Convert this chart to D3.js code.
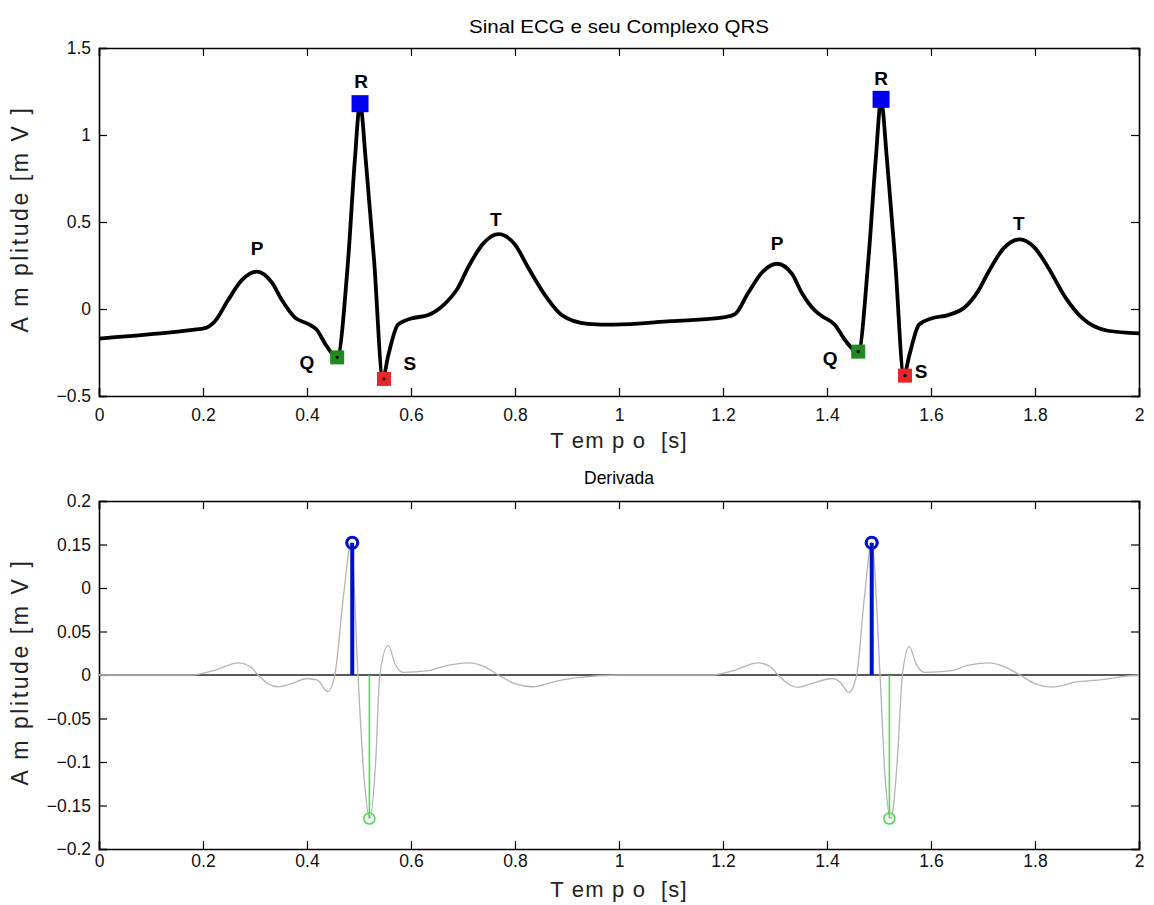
<!DOCTYPE html>
<html>
<head>
<meta charset="utf-8">
<script src="https://cdn.jsdelivr.net/npm/d3@7"></script>
<style>
    body { margin: 0; background: #fff; }
    text { font-family: "Liberation Sans", Arial, sans-serif; }
</style>
</head>
<body>
<svg id="chart" width="1154" height="905"></svg>
<script>
var ecgT = [0, 0.10, 0.18, 0.204, 0.223, 0.248, 0.275, 0.304, 0.333, 0.352, 0.377, 0.402, 0.419, 0.435, 0.458,
    0.479, 0.492, 0.502, 0.513, 0.529, 0.546, 0.556, 0.575, 0.60, 0.633, 0.665, 0.69, 0.71, 0.74, 0.768, 0.80,
    0.825, 0.86, 0.89, 0.94, 0.99, 1.10, 1.204, 1.223, 1.248, 1.275, 1.304, 1.333, 1.352, 1.377, 1.39, 1.415,
    1.435, 1.46, 1.48, 1.494, 1.504, 1.515, 1.531, 1.548, 1.558, 1.577, 1.60, 1.633, 1.665, 1.69, 1.71, 1.74,
    1.77, 1.80, 1.825, 1.86, 1.89, 1.94, 2.0];
var ecgV = [-0.17, -0.145, -0.12, -0.11, -0.07, 0.05, 0.167, 0.215, 0.15, 0.05, -0.05, -0.086, -0.12, -0.2, -0.276,
    0.28, 0.856, 1.18, 0.856, 0.28, -0.40, -0.27, -0.09, -0.055, -0.035, 0.03, 0.12, 0.24, 0.38, 0.43, 0.37,
    0.24, 0.07, -0.035, -0.085, -0.09, -0.07, -0.047, -0.03, 0.09, 0.21, 0.26, 0.20, 0.09, -0.01, -0.04, -0.09,
    -0.18, -0.247, 0.30, 0.87, 1.20, 0.87, 0.28, -0.385, -0.27, -0.09, -0.055, -0.035, 0.01, 0.10, 0.21, 0.35,
    0.40, 0.35, 0.24, 0.06, -0.05, -0.125, -0.14];

// picos detectados
var rT = [0.502, 1.504], rV = [1.18, 1.205];
var qT = [0.458, 1.460], qV = [-0.278, -0.245];
var sT = [0.548, 1.550], sV = [-0.402, -0.383];

var ondaNomes = ["P", "Q", "R", "S", "T", "P", "Q", "R", "S", "T"];
var ondaT = [0.304, 0.400, 0.504, 0.598, 0.763, 1.304, 1.406, 1.504, 1.581, 1.769];
var ondaV = [0.345, -0.31, 1.31, -0.316, 0.517, 0.379, -0.287, 1.322, -0.362, 0.494];

// derivada
var derT = [0, 0.18, 0.22, 0.268, 0.29, 0.306, 0.325, 0.343, 0.37, 0.40, 0.42, 0.44, 0.454, 0.47, 0.485, 0.498,
    0.51, 0.521, 0.532, 0.54, 0.556, 0.57, 0.585, 0.633, 0.67, 0.71, 0.74, 0.768, 0.80, 0.833, 0.88, 0.92, 1.0,
    1.18, 1.22, 1.267, 1.29, 1.306, 1.325, 1.344, 1.37, 1.41, 1.425, 1.442, 1.457, 1.472, 1.486, 1.502, 1.512,
    1.523, 1.535, 1.545, 1.558, 1.572, 1.588, 1.64, 1.67, 1.71, 1.74, 1.771, 1.80, 1.833, 1.88, 1.92, 1.98, 2.0];
var derV = [0, 0, 0.005, 0.014, 0.01, 0, -0.01, -0.0135, -0.01, -0.004, -0.006, -0.019, 0.002, 0.09, 0.152, 0,
    -0.12, -0.165, -0.1, 0, 0.034, 0.012, 0.003, 0.005, 0.011, 0.014, 0.01, 0, -0.01, -0.0135, -0.007, -0.003, 0,
    0, 0.005, 0.014, 0.01, 0, -0.01, -0.014, -0.01, -0.004, -0.008, -0.02, 0, 0.09, 0.152, 0, -0.12,
    -0.165, -0.1, 0, 0.033, 0.012, 0.003, 0.005, 0.011, 0.014, 0.01, 0, -0.01, -0.014, -0.008, -0.006, -0.001, 0];

var maxT = [0.487, 1.486], maxV = [0.152, 0.152];
var minT = [0.520, 1.520], minV = [-0.165, -0.165];

var xTicks = [0, 0.2, 0.4, 0.6, 0.8, 1, 1.2, 1.4, 1.6, 1.8, 2];
var yTicksTop = [-0.5, 0, 0.5, 1, 1.5];
var yTickLabelsTop = ["\u22120.5", "0", "0.5", "1", "1.5"];
var yTicksBot = [-0.2, -0.15, -0.1, -0.05, 0, 0.05, 0.1, 0.15, 0.2];
var yTickLabelsBot = ["\u22120.2", "\u22120.15", "\u22120.1", "\u22120.05", "0", "0.05", "0", "0.15", "0.2"];

var svg = d3.select("#chart");
svg.append("rect").attr("width", 1154).attr("height", 905).attr("fill", "#fff");

var left = 99, right = 1139;

function desenhaEixos(top, bottom, yDomain, yTicks, yLabels, titulo, tituloY, tituloLarg, xPad, xLabelY) {
    var x = d3.scaleLinear().domain([0, 2]).range([left, right]);
    var y = d3.scaleLinear().domain(yDomain).range([bottom, top]);
    var g = svg.append("g");

    var fmtX = function (d) { return d3.format("")(+d.toFixed(1)); };

    g.append("g").attr("transform", "translate(0," + bottom + ")")
        .call(d3.axisBottom(x).tickValues(xTicks).tickSize(-8).tickPadding(xPad).tickFormat(fmtX));
    g.append("g").attr("transform", "translate(0," + top + ")")
        .call(d3.axisTop(x).tickValues(xTicks).tickSize(-8).tickFormat(""));
    g.append("g").attr("transform", "translate(" + left + ",0)")
        .call(d3.axisLeft(y).tickValues(yTicks).tickSize(-8).tickPadding(8)
            .tickFormat(function (d, i) { return yLabels[i]; }));
    g.append("g").attr("transform", "translate(" + right + ",0)")
        .call(d3.axisRight(y).tickValues(yTicks).tickSize(-8).tickFormat(""));

    g.selectAll(".domain").attr("stroke", "#000").attr("stroke-width", 1.6);
    g.selectAll(".tick line").attr("stroke", "#000").attr("stroke-width", 1.2);
    g.selectAll(".tick text").attr("font-size", 17.5).attr("fill", "#111")
        .attr("font-family", "Liberation Sans, Arial, sans-serif");

    svg.append("text").attr("x", (left + right) / 2).attr("y", tituloY)
        .attr("text-anchor", "middle").attr("font-size", 19)
        .attr("textLength", tituloLarg).attr("lengthAdjust", "spacingAndGlyphs")
        .text(titulo);

    svg.append("text").attr("x", (left + right) / 2).attr("y", xLabelY)
        .attr("text-anchor", "middle").attr("font-size", 22).attr("fill", "#222")
        .attr("letter-spacing", 1.2)
        .style("white-space", "pre").attr("xml:space", "preserve")
        .text("T em p o  [s]");

    var cy = (top + bottom) / 2 - 3;
    svg.append("text").attr("transform", "translate(28," + cy + ") rotate(-90)")
        .attr("text-anchor", "middle").attr("font-size", 23).attr("fill", "#222")
        .attr("letter-spacing", 2.6)
        .style("white-space", "pre").attr("xml:space", "preserve")
        .text("A m plitude [m V ]");

    return {x: x, y: y};
}

// ---- sinal ECG ----
var s1 = desenhaEixos(48, 396, [-0.5, 1.5], yTicksTop, yTickLabelsTop, "Sinal ECG e seu Complexo QRS", 33, 300, 13, 448);

var ecg = ecgT.map(function (t, i) { return [t, ecgV[i]]; });
var linhaEcg = d3.line()
    .x(function (d) { return s1.x(d[0]); })
    .y(function (d) { return s1.y(d[1]); })
    .curve(d3.curveMonotoneX);

svg.append("path").datum(ecg).attr("d", linhaEcg)
    .attr("fill", "none").attr("stroke", "#000").attr("stroke-width", 3.8)
    .attr("stroke-linejoin", "round");

function quadrados(ts, vs, tam, cor) {
    ts.forEach(function (t, i) {
        var cx = s1.x(t), cy = s1.y(vs[i]);
        svg.append("rect").attr("x", cx - tam / 2).attr("y", cy - tam / 2)
            .attr("width", tam).attr("height", tam).attr("fill", cor);
        if (tam < 16)
            svg.append("circle").attr("cx", cx).attr("cy", cy).attr("r", 1.6).attr("fill", "#000");
    });
}
quadrados(rT, rV, 17, "#0000f0");
quadrados(qT, qV, 14, "#1f8a1f");
quadrados(sT, sV, 14, "#e8262a");

ondaNomes.forEach(function (n, i) {
    svg.append("text").attr("x", s1.x(ondaT[i])).attr("y", s1.y(ondaV[i]))
        .attr("text-anchor", "middle").attr("dominant-baseline", "central")
        .attr("font-size", 19).attr("font-weight", "bold").text(n);
});

// ---- derivada ----
var s2 = desenhaEixos(501, 849, [-0.2, 0.2], yTicksBot, yTickLabelsBot, "Derivada", 484, 70, 6, 897);

svg.append("line").attr("x1", s2.x(0)).attr("x2", s2.x(2))
    .attr("y1", s2.y(0)).attr("y2", s2.y(0))
    .attr("stroke", "#5a5a5a").attr("stroke-width", 2.2);

var der = derT.map(function (t, i) { return [t, derV[i]]; });
var linhaDer = d3.line()
    .x(function (d) { return s2.x(d[0]); })
    .y(function (d) { return s2.y(d[1]); })
    .curve(d3.curveMonotoneX);

svg.append("path").datum(der).attr("d", linhaDer)
    .attr("fill", "none").attr("stroke", "#b4b4b4").attr("stroke-width", 1.3);

function hastes(ts, vs, cor, larg, raio, largC) {
    ts.forEach(function (t, i) {
        svg.append("line").attr("x1", s2.x(t)).attr("x2", s2.x(t))
            .attr("y1", s2.y(0)).attr("y2", s2.y(vs[i]))
            .attr("stroke", cor).attr("stroke-width", larg);
        svg.append("circle").attr("cx", s2.x(t)).attr("cy", s2.y(vs[i])).attr("r", raio)
            .attr("fill", "none").attr("stroke", cor).attr("stroke-width", largC);
    });
}
hastes(maxT, maxV, "#0010c8", 4, 5.5, 3.2);
hastes(minT, minV, "#4fdc4f", 1.6, 5.5, 1.6);
</script>
</body>
</html>
